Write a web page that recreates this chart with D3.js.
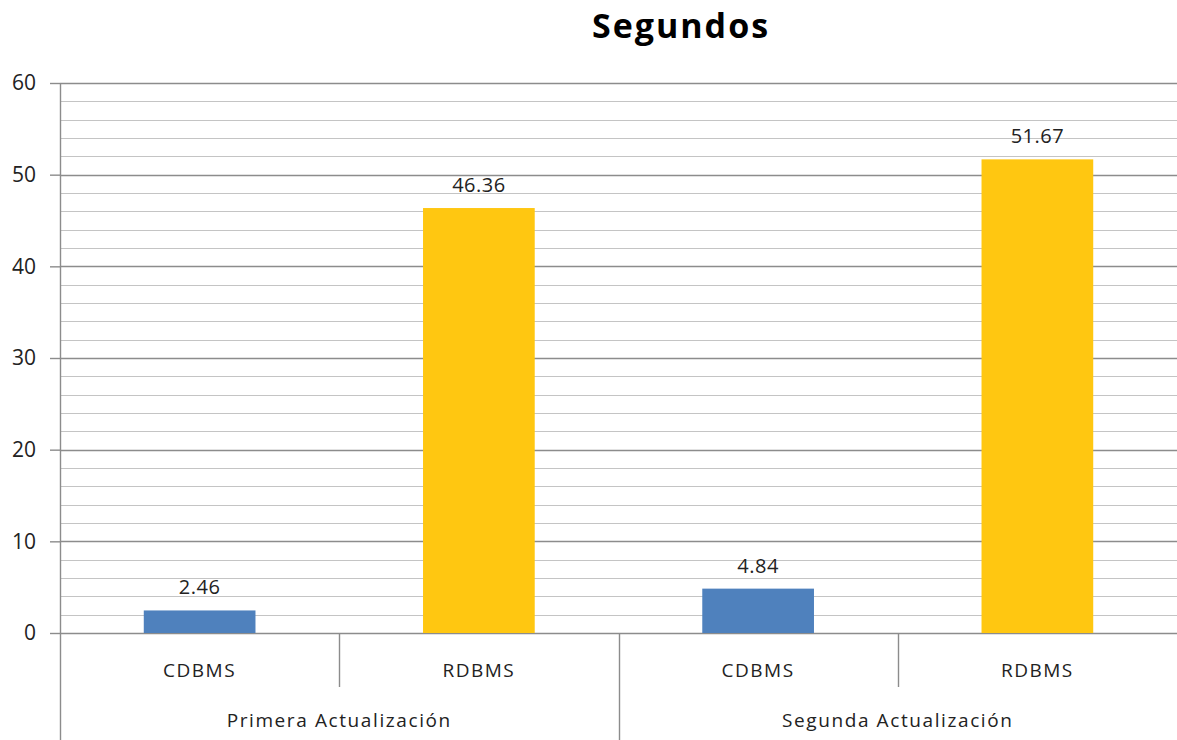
<!DOCTYPE html>
<html>
<head>
<meta charset="utf-8">
<script src="https://cdn.jsdelivr.net/npm/d3@7"></script>
<style>
  html, body { margin: 0; padding: 0; background: #fff; }
  svg { display: block; }
  text { font-family: "Open Sans", "DejaVu Sans", sans-serif; fill: #222; }
</style>
</head>
<body>
<svg id="chart" width="1177" height="740"></svg>
<script>
// Chart data
const title = "Segundos";
const groups = ["Primera Actualización", "Segunda Actualización"];
const systems = ["CDBMS", "RDBMS"];
const values = [2.46, 46.36, 4.84, 51.67];        // seconds, in group order
const barColors = ["#4F81BD", "#FFC711"];
const yTicks = [0, 10, 20, 30, 40, 50, 60];

(function draw() {
  const svg = d3.select("#chart");
  const W = 1177, H = 740;
  const plotLeft = 60, plotRight = 1177, plotTop = 83, plotBottom = 633;

  // One row per bar
  const rows = values.map((v, i) => ({
    key: i,
    group: groups[Math.floor(i / systems.length)],
    system: systems[i % systems.length],
    colorIdx: i % systems.length,
    value: v
  }));

  const x = d3.scaleBand().domain(rows.map(d => d.key)).range([plotLeft, plotRight]).padding(0);
  const y = d3.scaleLinear().domain([0, 60]).range([plotBottom, plotTop]);
  const xGroup = d3.scaleBand().domain(groups).range([plotLeft, plotRight]).padding(0);

  // Minor gridlines every 2 units
  svg.append("g")
    .selectAll("line")
    .data(d3.range(0, 61, 2).filter(v => v % 10 !== 0))
    .join("line")
    .attr("x1", plotLeft).attr("x2", plotRight)
    .attr("y1", d => Math.round(y(d)) + 0.5).attr("y2", d => Math.round(y(d)) + 0.5)
    .attr("stroke", "#c4c4c4").attr("stroke-width", 1.2);

  // Major gridlines
  svg.append("g")
    .selectAll("line")
    .data(yTicks)
    .join("line")
    .attr("x1", plotLeft).attr("x2", plotRight)
    .attr("y1", d => Math.round(y(d)) + 0.5).attr("y2", d => Math.round(y(d)) + 0.5)
    .attr("stroke", "#8c8c8c").attr("stroke-width", 1.4);

  // Y axis
  const yAxis = svg.append("g")
    .attr("transform", `translate(${plotLeft},0)`)
    .call(d3.axisLeft(y).tickValues(yTicks).tickSize(10).tickPadding(14));
  yAxis.select(".domain").remove();
  yAxis.selectAll(".tick line").attr("stroke", "#8c8c8c").attr("stroke-width", 1.4);
  yAxis.selectAll(".tick text")
    .style("font-size", "21px")
    .style("fill", "#222");

  // Axis line running down through the category rows
  svg.append("line")
    .attr("x1", plotLeft + 0.5).attr("x2", plotLeft + 0.5)
    .attr("y1", plotTop).attr("y2", H)
    .attr("stroke", "#8c8c8c").attr("stroke-width", 1.4);

  // Bars
  const bw = x.bandwidth() * 0.4;
  svg.append("g")
    .selectAll("rect")
    .data(rows)
    .join("rect")
    .attr("x", d => x(d.key) + (x.bandwidth() - bw) / 2)
    .attr("width", bw)
    .attr("y", d => y(d.value))
    .attr("height", d => y(0) - y(d.value))
    .attr("fill", d => barColors[d.colorIdx]);

  // Value labels
  svg.append("g")
    .selectAll("text")
    .data(rows)
    .join("text")
    .attr("x", d => x(d.key) + x.bandwidth() / 2)
    .attr("y", d => y(d.value) - 16)
    .attr("text-anchor", "middle")
    .style("font-size", "20px")
    .style("letter-spacing", "0.5px")
    .text(d => d.value.toFixed(2));

  // Category separators (inner level)
  svg.append("g")
    .selectAll("line")
    .data(rows.filter((d, i) => i % systems.length !== 0))
    .join("line")
    .attr("x1", d => Math.round(x(d.key)) + 0.5).attr("x2", d => Math.round(x(d.key)) + 0.5)
    .attr("y1", plotBottom).attr("y2", 687)
    .attr("stroke", "#8c8c8c").attr("stroke-width", 1.4);

  // Group separators (outer level)
  svg.append("g")
    .selectAll("line")
    .data(groups.slice(1))
    .join("line")
    .attr("x1", d => Math.round(xGroup(d)) + 0.5).attr("x2", d => Math.round(xGroup(d)) + 0.5)
    .attr("y1", plotBottom).attr("y2", H)
    .attr("stroke", "#8c8c8c").attr("stroke-width", 1.4);

  // Category labels
  svg.append("g")
    .selectAll("text")
    .data(rows)
    .join("text")
    .attr("x", d => x(d.key) + x.bandwidth() / 2)
    .attr("y", 677)
    .attr("text-anchor", "middle")
    .style("font-size", "19px")
    .style("letter-spacing", "1.5px")
    .text(d => d.system);

  // Group labels
  svg.append("g")
    .selectAll("text")
    .data(groups)
    .join("text")
    .attr("x", d => xGroup(d) + xGroup.bandwidth() / 2)
    .attr("y", 727)
    .attr("text-anchor", "middle")
    .style("font-size", "19px")
    .style("letter-spacing", "1.6px")
    .text(d => d);

  // Title
  svg.append("text")
    .attr("x", 681)
    .attr("y", 38)
    .attr("text-anchor", "middle")
    .style("font-size", "34px")
    .style("font-weight", "bold")
    .style("letter-spacing", "2px")
    .style("fill", "#000")
    .text(title);
})();
</script>
</body>
</html>
